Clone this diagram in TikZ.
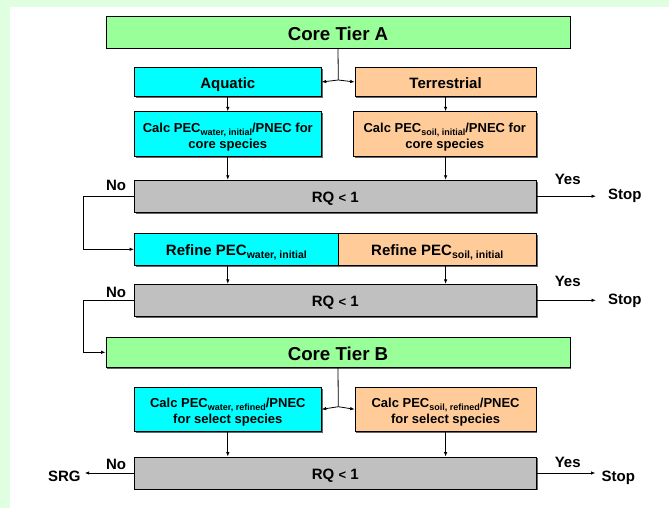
\documentclass[tikz,border=0pt]{standalone}
\usepackage{fontspec}
\setmainfont{Liberation Sans}
\usetikzlibrary{arrows.meta,shadows}

\definecolor{tiergreen}{RGB}{153,255,153}
\definecolor{aquacyan}{RGB}{0,255,255}
\definecolor{soilpeach}{RGB}{255,204,153}
\definecolor{rqgray}{RGB}{192,192,192}
\definecolor{framegreen}{RGB}{224,255,224}

% lowered small text for the PEC indices
\newcommand{\pecsub}[2][10.5]{\raisebox{-0.35ex}{\fontsize{#1}{#1}\selectfont #2}}
% first line of the two-line boxes, set a little lower
\newcommand{\calcline}{\rule{0pt}{15.5pt}}

\tikzset{
  box/.style={draw=black, line width=0.8pt, align=center, inner sep=0pt,
    font=\bfseries\fontsize{15}{17}\selectfont,
    drop shadow={shadow xshift=1.3pt, shadow yshift=-1.3pt, fill=black!60, opacity=1}},
  oneline/.style={text height=13.2pt, text depth=0pt},
  tierbox/.style={box, fill=tiergreen, minimum width=464, minimum height=32,
    text height=16.5pt, text depth=0pt, font=\bfseries\fontsize{18.7}{20}\selectfont},
  aquabox/.style={box, fill=aquacyan},
  soilbox/.style={box, fill=soilpeach},
  calcfont/.style={font=\bfseries\fontsize{13}{15.6}\selectfont},
  rqbox/.style={box, oneline, fill=rqgray, minimum width=402, minimum height=32},
  answer/.style={font=\bfseries\fontsize{15}{17}\selectfont, inner sep=0pt, anchor=base west},
  arr/.style={line width=0.8pt, -{Latex[length=4.5pt,width=3.5pt]}},
  link/.style={line width=0.8pt}
}

\begin{document}
\begin{tikzpicture}[x=1pt, y=-1pt]
\useasboundingbox (0,0) rectangle (669,508);
\fill[framegreen] (0,0) rectangle (669,508);
\fill[white] (10,7) rectangle (669,508);

% tier A
\node[tierbox] (coreA) at (338,32.2) {Core Tier A};
\node[aquabox, oneline, minimum width=187, minimum height=29.4] (aqua) at (227.8,82) {Aquatic};
\node[soilbox, oneline, minimum width=181, minimum height=29.4] (terr) at (445.6,82) {Terrestrial};
\node[aquabox, calcfont, minimum width=187, minimum height=45] (calcw) at (227.8,134.2)
  {\calcline Calc PEC\pecsub[9]{water, initial}/PNEC for\\core species};
\node[soilbox, calcfont, minimum width=183, minimum height=45] (calcs) at (444.8,134.2)
  {\calcline Calc PEC\pecsub[9]{soil, initial}/PNEC for\\core species};
\node[rqbox] (rq1) at (335.3,196.2) {RQ {\fontsize{13}{15}\selectfont<} 1};

\coordinate (splitA) at (338.3,80);
\draw[link] (coreA.south) -- (splitA);
\draw[arr] (splitA) -- (aqua.east);
\draw[arr] (splitA) -- (terr.west);
\draw[arr] (aqua.south) -- (calcw.north);
\draw[arr] (terr.south) -- (terr.south |- calcs.north);
\draw[arr] (calcw.south) -- (calcw.south |- rq1.north);
\draw[arr] (terr.south |- calcs.south) -- (terr.south |- rq1.north);

\node[answer] (no1) at (105.8,190) {No};
\node[answer] (yes1) at (554.6,184) {Yes};
\node[answer] (stop1) at (608,199.5) {Stop};
\draw[arr, shorten >=12pt] (rq1.east) -- (rq1.east -| stop1.west);

% refinement
\node[aquabox, oneline, minimum width=204, minimum height=32] (refw) at (236.4,249.3)
  {Refine PEC\pecsub{water, initial}};
\node[soilbox, oneline, minimum width=198, minimum height=32] (refs) at (437.3,249.3)
  {Refine PEC\pecsub{soil, initial}};
\node[rqbox] (rq2) at (335.3,300.3) {RQ {\fontsize{13}{15}\selectfont<} 1};

\draw[arr] (rq1.west) -- ++(-51,0) |- (refw.west);
\draw[arr] (calcw.south |- refw.south) -- (calcw.south |- rq2.north);
\draw[arr] (terr.south |- refs.south) -- (terr.south |- rq2.north);

\node[answer] (no2) at (105.8,297) {No};
\node[answer] (yes2) at (554.6,286) {Yes};
\node[answer] (stop2) at (608,304.5) {Stop};
\draw[arr, shorten >=12pt] (rq2.east) -- (rq2.east -| stop2.west);

% tier B
\node[tierbox, minimum height=30] (coreB) at (338,352.3) {Core Tier B};
\node[aquabox, calcfont, minimum width=187, minimum height=44] (calcwr) at (227.8,409.3)
  {\calcline Calc PEC\pecsub[9]{water, refined}/PNEC\\for select species};
\node[soilbox, calcfont, minimum width=181, minimum height=44] (calcsr) at (445.6,409.3)
  {\calcline Calc PEC\pecsub[9]{soil, refined}/PNEC\\for select species};
\node[rqbox] (rq3) at (335.3,473) {RQ {\fontsize{13}{15}\selectfont<} 1};

\draw[arr] (rq2.west) -- ++(-51,0) |- (coreB.west);
\coordinate (splitB) at (338.3,406.7);
\draw[link] (coreB.south) -- (splitB);
\draw[arr] (splitB) -- (calcwr.east);
\draw[arr] (splitB) -- (calcsr.west);
\draw[arr] (calcwr.south) -- (calcwr.south |- rq3.north);
\draw[arr] (calcsr.south) -- (calcsr.south |- rq3.north);

\node[answer] (no3) at (105.8,469) {No};
\node[answer] (yes3) at (554.6,467) {Yes};
\node[answer] (stop3) at (601.5,481.5) {Stop};
\node[answer] (srg) at (47.8,481.5) {SRG};
\draw[arr, shorten >=6pt] (rq3.east) -- (rq3.east -| stop3.west);
\draw[arr, shorten >=4pt] (rq3.west) -- (rq3.west -| srg.east);
\end{tikzpicture}
\end{document}
